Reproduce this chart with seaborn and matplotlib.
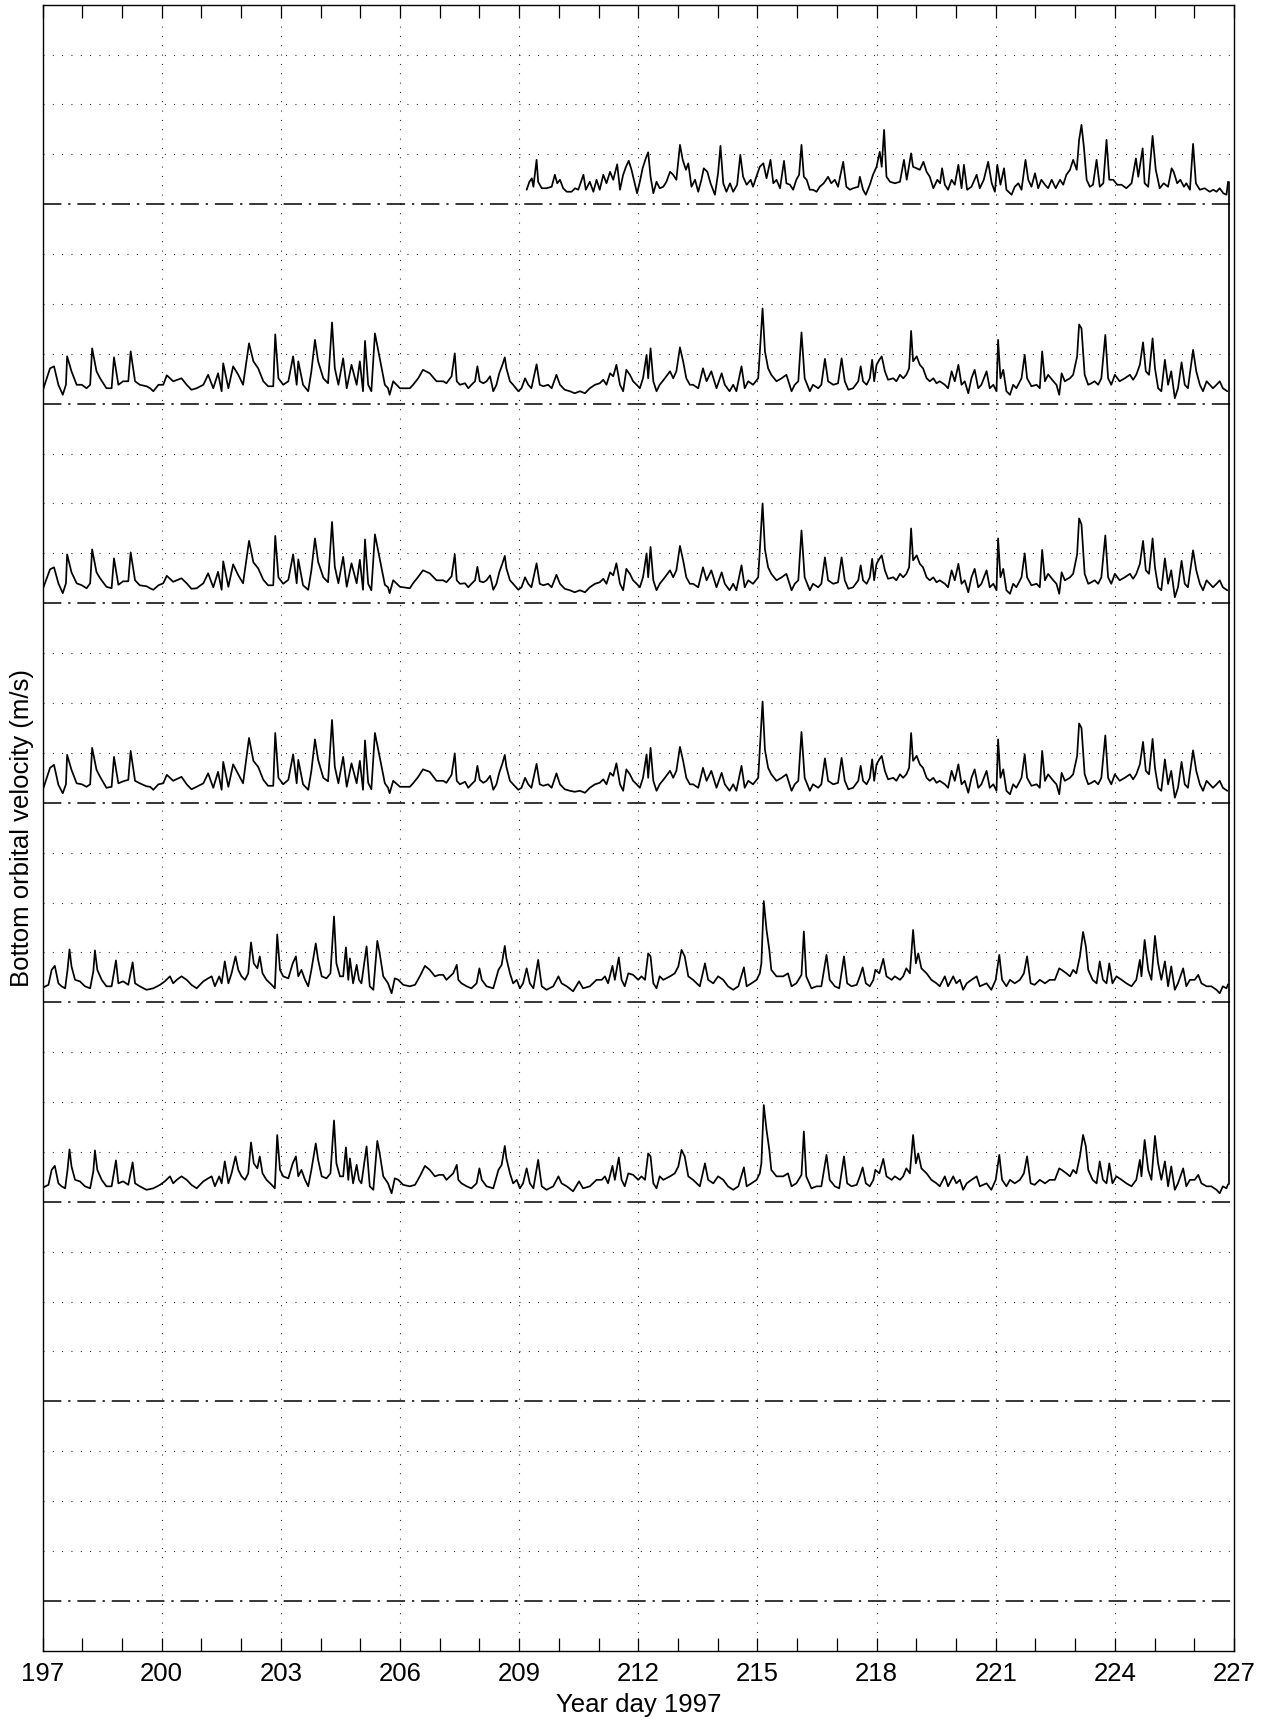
import numpy as np
import pandas as pd
import matplotlib
matplotlib.use("Agg")
import matplotlib.pyplot as plt
from matplotlib.ticker import MultipleLocator
import seaborn as sns

# ---------------- data ----------------
baselines = [1, 5, 9, 13, 17, 21, 25, 29]
x_major = list(range(197, 228, 3))
end_day = 226.87

# series on baseline 29 (starts at day 209.2)
t1 = [209.19,209.26,209.32,209.36,209.44,209.48,209.57,209.69,209.82,209.90,
      209.96,210.03,210.11,210.20,210.32,210.41,210.49,210.62,210.68,210.78,
      210.87,210.95,211.03,211.12,211.20,211.29,211.37,211.47,211.54,211.62,
      211.69,211.76,211.83,211.92,211.97,212.04,212.11,212.19,212.25,212.31,
      212.38,212.46,212.54,212.63,212.71,212.80,212.88,212.96,213.05,213.12,
      213.20,213.26,213.34,213.43,213.51,213.59,213.65,213.74,213.82,213.93,
      214.01,214.07,214.14,214.22,214.31,214.39,214.49,214.57,214.64,214.73,
      214.83,214.89,214.99,215.06,215.15,215.23,215.33,215.40,215.48,215.57,
      215.67,215.73,215.82,215.90,215.98,216.05,216.11,216.17,216.24,216.32,
      216.40,216.49,216.57,216.67,216.78,216.86,216.95,217.03,217.16,217.24,
      217.33,217.41,217.54,217.58,217.66,217.73,217.83,217.91,218.00,218.08,
      218.13,218.19,218.25,218.34,218.46,218.59,218.69,218.76,218.87,218.92,
      219.01,219.09,219.18,219.26,219.34,219.43,219.53,219.60,219.65,219.72,
      219.80,219.89,219.97,220.06,220.14,220.20,220.28,220.39,220.52,220.60,
      220.70,220.81,220.90,220.98,221.04,221.12,221.21,221.27,221.40,221.48,
      221.57,221.65,221.75,221.82,221.90,221.99,222.07,222.15,222.24,222.32,
      222.41,222.51,222.62,222.70,222.78,222.87,222.95,223.04,223.10,223.16,
      223.22,223.29,223.37,223.45,223.54,223.62,223.71,223.79,223.86,223.96,
      224.06,224.17,224.29,224.42,224.53,224.59,224.70,224.75,224.84,224.95,
      225.03,225.13,225.23,225.34,225.43,225.48,225.57,225.65,225.74,225.80,
      225.89,225.97,226.04,226.14,226.26,226.39,226.48,226.56,226.64,226.73,
      226.81,226.85]
v1 = [0.29,0.45,0.52,0.35,0.89,0.45,0.32,0.32,0.35,0.59,
      0.42,0.49,0.32,0.25,0.25,0.32,0.29,0.59,0.29,0.45,
      0.25,0.49,0.29,0.59,0.42,0.65,0.49,0.80,0.29,0.59,
      0.75,0.87,0.69,0.39,0.22,0.45,0.72,0.92,1.04,0.55,
      0.22,0.45,0.32,0.35,0.45,0.65,0.59,0.49,1.19,0.89,
      0.69,0.82,0.35,0.49,0.25,0.49,0.72,0.65,0.42,0.19,
      0.62,1.17,0.42,0.25,0.42,0.25,0.39,0.99,0.55,0.39,
      0.49,0.35,0.59,0.75,0.82,0.52,0.89,0.42,0.49,0.32,
      0.87,0.42,0.39,0.29,0.49,0.59,1.19,0.55,0.49,0.29,
      0.29,0.25,0.35,0.42,0.55,0.42,0.49,0.35,0.85,0.35,
      0.29,0.32,0.35,0.55,0.29,0.19,0.39,0.59,0.75,1.05,
      0.75,1.49,0.55,0.45,0.42,0.45,0.89,0.49,1.02,0.75,
      0.72,0.69,0.85,0.65,0.55,0.32,0.49,0.42,0.72,0.39,
      0.29,0.49,0.39,0.79,0.32,0.79,0.29,0.35,0.59,0.32,
      0.49,0.85,0.42,0.25,0.79,0.39,0.72,0.29,0.19,0.35,
      0.42,0.29,0.89,0.49,0.35,0.62,0.32,0.49,0.39,0.32,
      0.49,0.32,0.49,0.39,0.59,0.69,0.89,0.69,1.29,1.59,
      1.15,0.49,0.35,0.39,0.89,0.35,0.42,1.29,0.49,0.49,
      0.39,0.39,0.32,0.42,0.92,0.55,1.12,0.42,0.35,1.37,
      0.69,0.32,0.42,0.35,0.72,0.65,0.42,0.49,0.35,0.42,
      0.29,1.21,0.42,0.29,0.32,0.25,0.29,0.25,0.32,0.22,
      0.19,0.45]

# sampling days shared by the series on baselines 25, 21 and 17
t2 = [197.00,197.19,197.29,197.40,197.51,197.59,197.62,197.73,197.86,197.99,
      198.11,198.20,198.25,198.36,198.45,198.61,198.74,198.80,198.91,199.03,
      199.16,199.22,199.33,199.45,199.62,199.71,199.79,199.92,200.04,200.13,
      200.29,200.50,200.63,200.75,200.88,201.05,201.17,201.30,201.42,201.51,
      201.55,201.68,201.80,201.93,202.05,202.20,202.31,202.43,202.56,202.68,
      202.81,202.86,202.94,203.06,203.19,203.31,203.40,203.44,203.56,203.69,
      203.77,203.86,203.94,204.07,204.19,204.29,204.36,204.45,204.57,204.66,
      204.78,204.91,204.99,205.07,205.12,205.20,205.28,205.37,205.49,205.62,
      205.70,205.74,205.83,206.00,206.25,206.33,206.46,206.58,206.75,206.92,
      207.09,207.17,207.30,207.38,207.43,207.51,207.64,207.72,207.80,207.89,
      207.95,208.01,208.10,208.18,208.27,208.35,208.43,208.50,208.58,208.64,
      208.68,208.77,208.85,208.98,209.06,209.15,209.23,209.31,209.44,209.52,
      209.61,209.73,209.82,209.94,210.03,210.15,210.28,210.40,210.53,210.66,
      210.78,210.91,211.03,211.12,211.20,211.29,211.37,211.45,211.54,211.62,
      211.70,211.79,211.87,211.96,212.04,212.12,212.21,212.25,212.31,212.38,
      212.46,212.54,212.67,212.80,212.88,212.96,213.05,213.13,213.21,213.30,
      213.38,213.51,213.63,213.72,213.84,213.97,214.10,214.18,214.30,214.39,
      214.47,214.60,214.68,214.77,214.89,215.02,215.13,215.19,215.27,215.35,
      215.48,215.61,215.73,215.86,215.94,216.03,216.11,216.19,216.32,216.40,
      216.53,216.61,216.70,216.78,216.91,217.03,
      217.12,217.20,217.29,217.41,217.54,217.60,217.66,217.75,217.83,217.89,
      217.94,218.00,218.07,218.13,218.21,218.29,218.42,218.50,218.59,218.67,
      218.75,218.82,218.87,218.92,219.01,219.09,219.17,219.26,219.34,219.43,
      219.51,219.59,219.72,219.80,219.89,219.97,220.06,220.14,220.22,220.31,
      220.39,220.47,220.56,220.64,220.77,220.85,220.94,221.02,221.06,221.12,
      221.19,221.27,221.36,221.44,221.52,221.65,221.73,221.79,221.90,222.03,
      222.11,222.17,222.24,222.32,222.45,222.53,222.60,222.66,222.74,222.87,
      222.95,223.05,223.10,223.16,223.24,223.33,223.41,223.49,223.58,223.66,
      223.76,223.83,223.91,224.00,224.12,224.25,224.38,224.46,224.54,224.63,
      224.71,224.78,224.86,224.95,225.01,225.09,225.17,225.26,225.34,225.42,
      225.51,225.59,225.68,225.76,225.84,225.97,226.05,226.14,226.22,226.31,
      226.39,226.47,226.56,226.64,226.72,226.83]
# baseline 25
v2 = [0.25,0.71,0.75,0.38,0.18,0.38,0.95,0.65,0.38,0.38,
      0.31,0.38,1.11,0.65,0.51,0.31,0.31,0.93,0.38,0.45,
      0.45,1.05,0.45,0.38,0.35,0.31,0.25,0.38,0.38,0.57,
      0.45,0.51,0.38,0.28,0.31,0.38,0.58,0.31,0.61,0.25,
      0.81,0.31,0.75,0.58,0.38,1.21,0.85,0.71,0.45,0.35,
      0.35,1.39,0.51,0.38,0.45,0.95,0.38,0.85,0.38,0.25,
      0.65,1.28,0.85,0.51,0.41,1.63,0.71,0.38,0.91,0.31,
      0.78,0.38,0.85,0.25,1.26,0.38,0.25,1.41,0.91,0.38,
      0.31,0.18,0.45,0.31,0.31,0.38,0.51,0.68,0.61,0.45,
      0.45,0.41,0.55,1.01,0.45,0.38,0.41,0.31,0.38,0.45,
      0.75,0.45,0.41,0.45,0.55,0.25,0.38,0.61,0.78,0.93,
      0.71,0.45,0.38,0.25,0.31,0.51,0.38,0.31,0.79,0.38,
      0.35,0.38,0.31,0.58,0.38,0.28,0.25,0.21,0.25,0.21,
      0.31,0.38,0.41,0.48,0.38,0.61,0.55,0.78,0.38,0.25,
      0.68,0.58,0.45,0.38,0.31,0.51,0.98,0.51,1.11,0.45,
      0.25,0.38,0.51,0.65,0.51,0.65,1.13,0.85,0.51,0.38,
      0.38,0.31,0.71,0.45,0.65,0.31,0.61,0.38,0.25,0.38,
      0.25,0.75,0.31,0.45,0.38,0.51,1.91,1.05,0.71,0.58,
      0.45,0.51,0.58,0.25,0.38,0.45,1.43,0.51,0.25,0.38,
      0.31,0.38,0.90,0.45,0.38,0.41,
      0.91,0.45,0.28,0.31,0.45,0.75,0.45,0.38,0.51,0.88,
      0.45,0.78,0.88,0.95,0.65,0.48,0.51,0.45,0.58,0.51,
      0.58,0.71,1.46,0.85,0.95,0.78,0.71,0.51,0.45,0.51,
      0.41,0.45,0.38,0.31,0.65,0.45,0.78,0.38,0.45,0.21,
      0.51,0.68,0.31,0.38,0.65,0.31,0.38,0.25,1.28,0.51,
      0.68,0.25,0.18,0.38,0.31,0.51,0.98,0.51,0.35,0.38,
      0.31,1.05,0.45,0.58,0.45,0.38,0.18,0.61,0.45,0.51,
      0.58,0.95,1.59,1.51,0.58,0.38,0.41,0.45,0.38,0.51,
      1.38,0.51,0.38,0.58,0.45,0.51,0.58,0.48,0.58,0.78,
      1.23,0.65,0.58,1.31,0.71,0.31,0.25,0.88,0.38,0.65,
      0.11,0.31,0.83,0.38,0.31,1.08,0.65,0.38,0.25,0.45,
      0.38,0.31,0.38,0.45,0.31,0.25]
# baseline 21
v3 = [0.27,0.68,0.72,0.40,0.20,0.40,0.98,0.62,0.40,0.36,
      0.30,0.40,1.08,0.62,0.50,0.33,0.30,0.90,0.37,0.44,
      0.44,1.02,0.46,0.36,0.34,0.30,0.27,0.36,0.40,0.55,
      0.43,0.50,0.40,0.29,0.30,0.40,0.60,0.32,0.63,0.27,
      0.84,0.33,0.78,0.56,0.40,1.25,0.82,0.70,0.47,0.36,
      0.36,1.35,0.52,0.39,0.47,0.98,0.40,0.88,0.36,0.27,
      0.66,1.30,0.83,0.52,0.42,1.63,0.73,0.40,0.93,0.33,
      0.80,0.40,0.87,0.27,1.28,0.39,0.26,1.38,0.89,0.37,
      0.32,0.20,0.46,0.33,0.30,0.40,0.53,0.66,0.60,0.46,
      0.46,0.42,0.54,0.98,0.46,0.39,0.40,0.32,0.39,0.46,
      0.73,0.44,0.42,0.46,0.56,0.27,0.39,0.62,0.80,0.95,
      0.70,0.46,0.39,0.27,0.32,0.52,0.39,0.32,0.80,0.39,
      0.36,0.39,0.32,0.57,0.39,0.29,0.26,0.22,0.26,0.22,
      0.32,0.39,0.42,0.49,0.39,0.62,0.56,0.80,0.39,0.26,
      0.69,0.59,0.46,0.39,0.32,0.52,1.00,0.52,1.13,0.46,
      0.26,0.39,0.52,0.66,0.52,0.66,1.15,0.86,0.52,0.39,
      0.39,0.32,0.72,0.46,0.66,0.32,0.62,0.39,0.26,0.39,
      0.26,0.76,0.32,0.46,0.39,0.52,2.00,1.08,0.72,0.59,
      0.46,0.52,0.59,0.26,0.39,0.46,1.46,0.52,0.26,0.39,
      0.32,0.39,0.92,0.46,0.39,0.42,
      0.92,0.46,0.29,0.32,0.46,0.76,0.46,0.39,0.52,0.89,
      0.46,0.79,0.89,0.96,0.66,0.49,0.52,0.46,0.59,0.52,
      0.59,0.72,1.50,0.86,0.96,0.79,0.72,0.52,0.46,0.52,
      0.42,0.46,0.39,0.32,0.66,0.46,0.79,0.39,0.46,0.22,
      0.52,0.69,0.32,0.39,0.66,0.32,0.39,0.26,1.30,0.52,
      0.69,0.26,0.19,0.39,0.32,0.52,1.00,0.52,0.36,0.39,
      0.32,1.07,0.46,0.59,0.46,0.39,0.19,0.62,0.46,0.52,
      0.59,0.98,1.70,1.58,0.59,0.39,0.42,0.46,0.39,0.52,
      1.36,0.52,0.39,0.59,0.46,0.52,0.59,0.49,0.59,0.79,
      1.25,0.66,0.59,1.30,0.72,0.32,0.26,0.90,0.39,0.66,
      0.12,0.32,0.85,0.39,0.32,1.06,0.66,0.39,0.26,0.46,
      0.39,0.32,0.39,0.46,0.32,0.26]
# baseline 17
v4 = [0.24,0.70,0.76,0.36,0.19,0.37,0.96,0.66,0.39,0.37,
      0.32,0.37,1.10,0.66,0.52,0.30,0.32,0.92,0.39,0.43,
      0.46,1.04,0.44,0.39,0.33,0.32,0.26,0.37,0.39,0.56,
      0.44,0.52,0.37,0.27,0.32,0.39,0.59,0.30,0.62,0.26,
      0.82,0.32,0.77,0.57,0.39,1.30,0.84,0.72,0.46,0.34,
      0.34,1.40,0.50,0.37,0.46,0.97,0.39,0.86,0.37,0.26,
      0.64,1.27,0.86,0.50,0.43,1.66,0.72,0.39,0.92,0.32,
      0.79,0.39,0.84,0.26,1.25,0.40,0.27,1.40,0.92,0.39,
      0.30,0.19,0.44,0.32,0.32,0.39,0.52,0.67,0.62,0.44,
      0.44,0.40,0.56,0.99,0.44,0.37,0.42,0.30,0.37,0.44,
      0.74,0.46,0.40,0.44,0.54,0.26,0.37,0.60,0.79,0.96,
      0.72,0.44,0.37,0.26,0.30,0.50,0.37,0.30,0.78,0.37,
      0.34,0.37,0.30,0.59,0.37,0.27,0.24,0.22,0.24,0.20,
      0.30,0.37,0.40,0.47,0.37,0.60,0.54,0.79,0.37,0.24,
      0.67,0.57,0.44,0.37,0.30,0.50,0.97,0.50,1.10,0.44,
      0.24,0.37,0.50,0.64,0.50,0.64,1.12,0.84,0.50,0.37,
      0.37,0.30,0.70,0.44,0.64,0.30,0.60,0.37,0.24,0.37,
      0.24,0.74,0.30,0.44,0.37,0.50,2.03,1.06,0.70,0.57,
      0.44,0.50,0.57,0.24,0.37,0.44,1.42,0.50,0.24,0.37,
      0.30,0.37,0.89,0.44,0.37,0.40,
      0.90,0.44,0.27,0.30,0.44,0.74,0.44,0.37,0.50,0.87,
      0.44,0.77,0.87,0.94,0.64,0.47,0.50,0.44,0.57,0.50,
      0.57,0.70,1.40,0.84,0.94,0.77,0.70,0.50,0.44,0.50,
      0.40,0.44,0.37,0.30,0.64,0.44,0.77,0.37,0.44,0.20,
      0.50,0.67,0.30,0.37,0.64,0.30,0.37,0.24,1.27,0.50,
      0.67,0.24,0.17,0.37,0.30,0.50,0.97,0.50,0.34,0.37,
      0.30,1.04,0.44,0.57,0.44,0.37,0.17,0.60,0.44,0.50,
      0.57,0.94,1.59,1.50,0.57,0.37,0.40,0.44,0.37,0.50,
      1.35,0.50,0.37,0.57,0.44,0.50,0.57,0.47,0.57,0.77,
      1.22,0.64,0.57,1.28,0.70,0.30,0.24,0.87,0.37,0.64,
      0.10,0.30,0.82,0.37,0.30,1.05,0.64,0.37,0.24,0.44,
      0.37,0.30,0.37,0.44,0.30,0.24]

# sampling days shared by the series on baselines 13 and 9
t6 = [197.00,197.15,197.23,197.31,197.40,197.48,197.57,197.63,197.68,197.73,
      197.82,197.94,198.07,198.20,198.28,198.32,198.38,198.49,198.61,198.74,
      198.85,198.91,199.03,199.16,199.27,199.33,199.45,199.62,199.79,199.96,
      200.08,200.21,200.29,200.38,200.50,200.63,200.75,200.88,201.05,201.17,
      201.26,201.34,201.45,201.51,201.59,201.68,201.76,201.86,201.93,202.01,
      202.10,202.18,202.25,202.32,202.41,202.47,202.54,202.64,202.77,202.85,
      202.91,202.98,203.06,203.19,203.30,203.38,203.44,203.52,203.61,203.69,
      203.77,203.88,203.94,204.03,204.15,204.25,204.34,204.40,204.49,204.57,
      204.64,204.70,204.74,204.82,204.91,204.97,205.03,205.16,205.24,205.33,
      205.43,205.49,205.58,205.70,205.79,205.87,205.96,206.08,206.25,206.38,
      206.50,206.63,206.75,206.88,206.99,
      207.09,207.17,207.26,207.34,207.43,207.47,207.55,207.68,207.80,207.93,
      208.00,208.06,208.18,208.35,208.48,208.56,208.64,208.68,208.77,208.85,
      208.94,209.02,209.10,209.19,209.27,209.36,209.48,209.57,209.69,209.86,
      209.99,210.07,210.20,210.36,210.51,210.61,210.78,210.95,211.08,211.16,
      211.24,211.35,211.41,211.51,211.58,211.66,211.75,211.87,212.00,212.08,
      212.17,212.25,212.31,212.38,212.46,212.54,212.63,212.80,212.92,213.01,
      213.09,213.17,213.26,213.38,213.55,213.68,213.76,213.89,214.01,214.14,
      214.26,214.39,214.52,214.66,214.73,214.85,214.98,215.06,215.10,215.16,
      215.23,215.30,215.35,215.48,215.65,215.77,215.86,215.98,216.11,216.17,
      216.23,216.36,216.49,216.61,216.74,216.82,216.95,217.06,
      217.18,217.26,217.37,217.50,217.58,217.65,217.73,217.83,217.92,217.97,
      218.07,218.17,218.25,218.38,218.46,218.59,218.67,218.75,218.84,218.92,
      218.99,219.05,219.13,219.26,219.38,219.51,219.59,219.72,219.80,219.93,
      220.01,220.10,220.18,220.27,220.39,220.52,220.60,220.77,220.89,221.00,
      221.09,221.16,221.27,221.36,221.48,221.61,221.71,221.79,221.88,221.98,
      222.11,222.24,222.36,222.49,222.60,222.66,222.78,222.87,222.95,223.03,
      223.12,223.20,223.27,223.33,223.44,223.54,223.62,223.70,223.79,223.86,
      223.94,224.04,224.17,224.29,224.42,224.54,224.63,224.67,224.75,224.84,
      224.92,225.01,225.09,225.17,225.26,225.34,225.42,225.51,225.59,225.72,
      225.80,225.89,226.01,226.10,226.18,226.31,226.43,226.56,226.64,226.72,
      226.81,226.85]
# baseline 13
v5 = [0.29,0.35,0.65,0.73,0.38,0.32,0.28,0.65,1.06,0.72,
      0.45,0.42,0.32,0.28,0.62,1.04,0.65,0.45,0.32,0.32,
      0.84,0.38,0.42,0.35,0.80,0.38,0.32,0.25,0.28,0.35,
      0.42,0.52,0.38,0.45,0.52,0.45,0.35,0.28,0.42,0.48,
      0.52,0.32,0.52,0.38,0.82,0.38,0.58,0.92,0.65,0.52,
      0.45,0.58,1.20,0.78,0.68,0.92,0.58,0.45,0.35,0.28,
      1.36,0.65,0.52,0.48,0.78,0.92,0.52,0.65,0.45,0.32,
      0.65,1.18,0.85,0.52,0.48,0.58,1.72,0.78,0.52,0.52,
      1.10,0.45,0.88,0.38,0.75,0.45,0.38,1.12,0.32,0.25,
      1.23,0.98,0.52,0.38,0.18,0.48,0.45,0.35,0.32,0.35,
      0.52,0.73,0.65,0.52,0.55,
      0.55,0.45,0.52,0.58,0.75,0.45,0.38,0.32,0.28,0.38,
      0.68,0.45,0.32,0.28,0.65,0.75,1.13,0.88,0.58,0.38,
      0.45,0.28,0.38,0.68,0.38,0.28,0.85,0.32,0.25,0.32,
      0.52,0.38,0.32,0.22,0.42,0.28,0.32,0.45,0.45,0.52,
      0.38,0.73,0.45,0.90,0.45,0.32,0.58,0.55,0.45,0.52,
      0.45,0.98,0.92,0.38,0.28,0.52,0.45,0.52,0.58,0.72,
      1.05,0.92,0.52,0.45,0.32,0.78,0.45,0.38,0.52,0.45,
      0.32,0.25,0.32,0.70,0.32,0.38,0.45,0.58,0.78,2.03,
      1.45,1.05,0.65,0.52,0.52,0.58,0.32,0.38,0.55,1.42,
      0.52,0.28,0.32,0.32,0.95,0.45,0.32,0.28,
      0.92,0.38,0.32,0.35,0.52,0.70,0.38,0.32,0.45,0.65,
      0.58,0.87,0.52,0.45,0.52,0.45,0.52,0.68,0.58,1.45,
      0.78,0.98,0.68,0.58,0.45,0.38,0.32,0.52,0.32,0.52,
      0.38,0.45,0.25,0.38,0.45,0.52,0.32,0.38,0.25,0.45,
      0.95,0.45,0.32,0.45,0.38,0.45,0.58,0.92,0.38,0.35,
      0.45,0.38,0.45,0.45,0.68,0.65,0.58,0.52,0.65,0.58,
      0.92,1.41,1.12,0.65,0.45,0.38,0.82,0.45,0.38,0.78,
      0.38,0.52,0.45,0.38,0.32,0.45,0.85,0.52,1.25,0.65,
      0.45,1.33,0.78,0.45,0.82,0.32,0.72,0.25,0.38,0.68,
      0.32,0.45,0.45,0.55,0.38,0.32,0.32,0.25,0.18,0.32,
      0.28,0.36]
# baseline 9
v6 = [0.28,0.34,0.64,0.72,0.37,0.31,0.27,0.64,1.05,0.71,
      0.44,0.41,0.31,0.27,0.61,1.03,0.64,0.44,0.31,0.31,
      0.83,0.37,0.41,0.34,0.79,0.37,0.31,0.24,0.27,0.34,
      0.41,0.51,0.37,0.44,0.51,0.44,0.34,0.27,0.41,0.47,
      0.51,0.31,0.51,0.37,0.81,0.37,0.57,0.91,0.64,0.51,
      0.44,0.57,1.19,0.77,0.67,0.91,0.57,0.44,0.34,0.27,
      1.34,0.64,0.51,0.47,0.77,0.91,0.51,0.64,0.44,0.31,
      0.64,1.17,0.84,0.51,0.47,0.57,1.63,0.77,0.51,0.51,
      1.09,0.44,0.87,0.37,0.74,0.44,0.37,1.11,0.31,0.24,
      1.22,0.97,0.51,0.37,0.17,0.47,0.44,0.34,0.31,0.34,
      0.51,0.72,0.64,0.51,0.54,
      0.54,0.44,0.51,0.57,0.74,0.44,0.37,0.31,0.27,0.37,
      0.67,0.44,0.31,0.27,0.64,0.74,1.12,0.87,0.57,0.37,
      0.44,0.27,0.37,0.67,0.37,0.27,0.84,0.31,0.24,0.31,
      0.51,0.37,0.31,0.21,0.41,0.27,0.31,0.44,0.44,0.51,
      0.37,0.72,0.44,0.89,0.44,0.31,0.57,0.54,0.44,0.51,
      0.44,0.97,0.91,0.37,0.27,0.51,0.44,0.51,0.57,0.71,
      1.04,0.91,0.51,0.44,0.31,0.77,0.44,0.37,0.51,0.44,
      0.31,0.24,0.31,0.69,0.31,0.37,0.44,0.57,0.77,1.94,
      1.44,1.04,0.64,0.51,0.51,0.57,0.31,0.37,0.54,1.41,
      0.51,0.27,0.31,0.31,0.94,0.44,0.31,0.27,
      0.91,0.37,0.31,0.34,0.51,0.69,0.37,0.31,0.44,0.64,
      0.57,0.86,0.51,0.44,0.51,0.44,0.51,0.67,0.57,1.34,
      0.77,0.97,0.67,0.57,0.44,0.37,0.31,0.51,0.31,0.51,
      0.37,0.44,0.24,0.37,0.44,0.51,0.31,0.37,0.24,0.44,
      0.94,0.44,0.31,0.44,0.37,0.44,0.57,0.91,0.37,0.34,
      0.44,0.37,0.44,0.44,0.67,0.64,0.57,0.51,0.64,0.57,
      0.91,1.34,1.11,0.64,0.44,0.37,0.81,0.44,0.37,0.77,
      0.37,0.51,0.44,0.37,0.31,0.44,0.84,0.51,1.24,0.64,
      0.44,1.32,0.77,0.44,0.81,0.31,0.71,0.24,0.37,0.67,
      0.31,0.44,0.44,0.54,0.37,0.31,0.31,0.24,0.17,0.31,
      0.27,0.35]

series = [("s29", t1, v1, 29), ("s25", t2, v2, 25), ("s21", t2, v3, 21),
          ("s17", t2, v4, 17), ("s13", t6, v5, 13), ("s9", t6, v6, 9)]

# ---------------- figure ----------------
sns.set_theme(style="white")
plt.rcParams["font.family"] = ["Liberation Sans", "DejaVu Sans"]

W, H = 1271, 1727
fig = plt.figure(figsize=(W / 100, H / 100), dpi=100)
ax = fig.add_axes([42.5 / W, (H - 1650.7) / H, (1234 - 42.5) / W, (1650.7 - 4.7) / H])

ax.set_xlim(197, 227)
ax.set_ylim(0, 33)

dot = (0, (0.8, 7.6))
dashdot = (0, (12, 4.5, 1.5, 4.5))
for yg in range(1, 33):
    if yg not in baselines:
        ax.axhline(yg, color="black", lw=0.8, ls=dot, zorder=1)
for xg in x_major[1:-1]:
    ax.axvline(xg, color="black", lw=0.8, ls=dot, zorder=1)
for b in baselines:
    ax.axhline(b, color="black", lw=1.1, ls=dashdot, zorder=2)

frames = []
for name, t, v, base in series:
    frames.append(pd.DataFrame({"day": t, "vel": np.asarray(v) + base, "series": name}))
df = pd.concat(frames, ignore_index=True)
sns.lineplot(data=df, x="day", y="vel", units="series", estimator=None,
             color="black", lw=1.25, ax=ax, sort=False, zorder=3)
ax.plot([end_day, end_day], [v6[-1] + 9, v1[-1] + 29], color="black", lw=1.25, zorder=3)

ax.set_xticks(x_major)
ax.set_xticklabels([str(x) for x in x_major])
ax.xaxis.set_minor_locator(MultipleLocator(1))
ax.tick_params(axis="x", which="both", direction="in", length=9.5, width=0.9,
               top=True, bottom=True, colors="black", labelsize=18.5, pad=8)
ax.set_yticks([])
for s in ax.spines.values():
    s.set_color("black")
    s.set_linewidth(1.0)

ax.set_xlabel("Year day 1997", fontsize=18.5, color="black", labelpad=5)
ax.set_ylabel("Bottom orbital velocity (m/s)", fontsize=18.5, color="black", labelpad=6)

fig.savefig("out.png", dpi=100, facecolor="white")
